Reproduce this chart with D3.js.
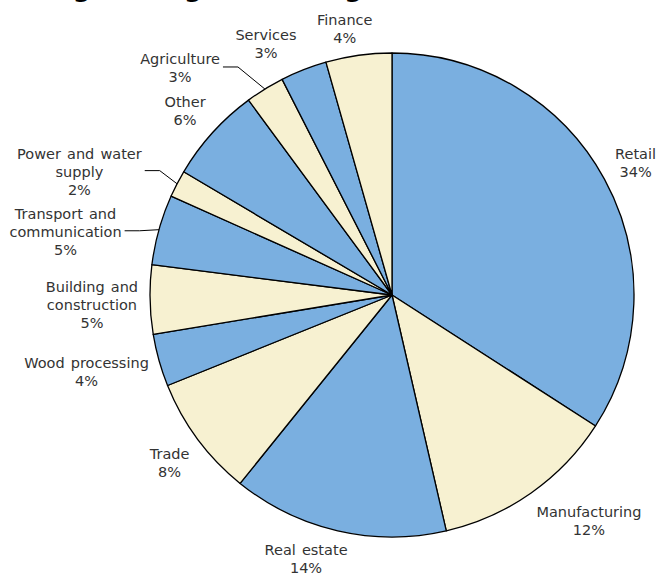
<!DOCTYPE html>
<html>
<head>
<meta charset="utf-8">
<script src="https://cdn.jsdelivr.net/npm/d3@7"></script>
<style>
  html, body { margin: 0; padding: 0; background: #ffffff; }
  svg { display: block; }
</style>
</head>
<body>
<svg id="chart" width="658" height="575"></svg>
<script>
// ---- data ----
const categories = ["Retail", "Manufacturing", "Real estate", "Trade", "Wood processing",
  "Building and construction", "Transport and communication", "Power and water supply",
  "Other", "Agriculture", "Services", "Finance"];
const values = [34.1, 12.3, 14.4, 8.1, 3.5, 4.6, 4.7, 1.8, 6.4, 2.6, 3.1, 4.4];
const labelLines = [["Retail"], ["Manufacturing"], ["Real estate"], ["Trade"], ["Wood processing"],
  ["Building and", "construction"], ["Transport and", "communication"], ["Power and water", "supply"],
  ["Other"], ["Agriculture"], ["Services"], ["Finance"]];
const titleText = "Lending Among Borrowing Sectors";

// ---- layout ----
const W = 658, H = 575;
const cx = 392, cy = 295, R = 242;
const fontSize = 14.5, lineH = 18, labelGap = 15;
const colors = ["#7aafe0", "#f7f1d1"];
// extra label offsets (px), where the labels were moved off their default spot
const labelNudge = [[0, 0], [19, 1], [-19, -4], [0, 4], [2, 3], [3, 5], [-25, 11], [-29, 3],
  [-1, 0], [-56, 7], [-21, 5], [-8, 6]];
const hasLeader = [false, false, false, false, false, false, true, true, false, true, false, false];

const svg = d3.select("#chart");

// title (cut off at the top edge, as in the reference)
svg.append("text")
  .attr("x", -26).attr("y", -4)
  .attr("font-family", "DejaVu Sans, Verdana, sans-serif")
  .attr("font-weight", "bold")
  .attr("font-size", 26)
  .attr("fill", "#000")
  .text(titleText);

const pie = d3.pie().sort(null).value(d => d)(values);
const arc = d3.arc().innerRadius(0).outerRadius(R);

const g = svg.append("g").attr("transform", `translate(${cx},${cy})`);
g.selectAll("path.slice")
  .data(pie)
  .join("path")
  .attr("class", "slice")
  .attr("d", arc)
  .attr("fill", (d, i) => colors[i % 2])
  .attr("stroke", "#000")
  .attr("stroke-width", 1.3)
  .attr("stroke-linejoin", "round");

// labels
const lg = svg.append("g");
pie.forEach((d, i) => {
  const mid = (d.startAngle + d.endAngle) / 2;
  const dx = Math.sin(mid), dy = -Math.cos(mid);
  const px = cx + (R + labelGap) * dx, py = cy + (R + labelGap) * dy;
  const lines = labelLines[i].concat([Math.round(values[i]) + "%"]);
  const t = lg.append("text")
    .attr("font-family", "DejaVu Sans, Verdana, sans-serif")
    .attr("font-size", fontSize)
    .attr("word-spacing", 1.5)
    .attr("fill", "#333")
    .attr("text-anchor", "middle");
  lines.forEach(s => t.append("tspan").text(s));
  let w = 0;
  t.selectAll("tspan").each(function () { w = Math.max(w, this.getComputedTextLength()); });
  const bx = px + dx * w / 2 + labelNudge[i][0];
  const by = py + dy * 18 + labelNudge[i][1];
  const top = by - (lines.length - 1) * lineH / 2;
  t.selectAll("tspan")
    .attr("x", bx)
    .attr("y", (s, k) => top + k * lineH)
    .attr("dy", "0.35em");
  if (hasLeader[i]) {
    const ex = cx + R * dx, ey = cy + R * dy;
    const sx = bx + w / 2 + 3, sy = by - 1;
    lg.append("polyline")
      .attr("points", [[sx, sy], [sx + 15, sy], [ex, ey]].map(p => p.join(",")).join(" "))
      .attr("fill", "none")
      .attr("stroke", "#000")
      .attr("stroke-width", 1);
  }
});
</script>
</body>
</html>
